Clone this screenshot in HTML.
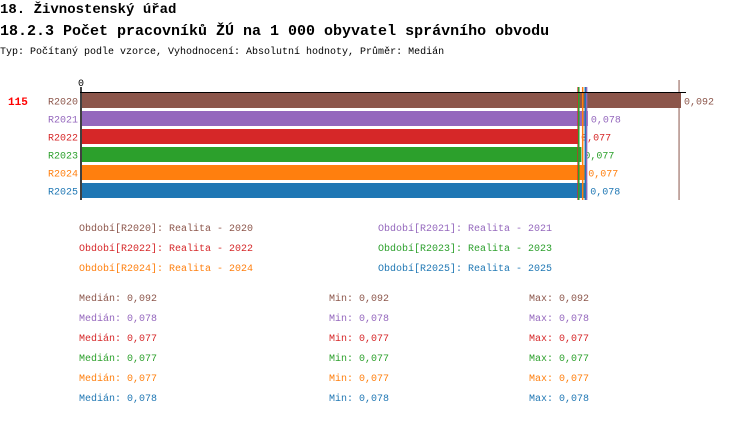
<!DOCTYPE html>
<html><head><meta charset="utf-8"><style>
body{margin:0;background:#fff;width:750px;height:416px;overflow:hidden;font-family:"Liberation Mono",monospace;}
svg text{font-family:"Liberation Mono",monospace;}
</style></head><body>
<svg id="chart" width="750" height="416">
<text x="0" y="13" font-size="14" font-weight="bold" fill="#000">18. Živnostenský úřad</text>
<text x="0" y="35" font-size="15" font-weight="bold" fill="#000">18.2.3 Počet pracovníků ŽÚ na 1 000 obyvatel správního obvodu</text>
<text x="0" y="54" font-size="10" fill="#000">Typ: Počítaný podle vzorce, Vyhodnocení: Absolutní hodnoty, Průměr: Medián</text>
<text x="81" y="86" font-size="10" text-anchor="middle" fill="#000">0</text>
<text x="8" y="105" font-size="11" font-weight="bold" fill="#ff0000">115</text>
<g id="bars"></g>
<g id="legend"></g>
</svg>
<script>
const categories=["R2020","R2021","R2022","R2023","R2024","R2025"];
const values=[0.092,0.0777,0.0762,0.0767,0.0773,0.0776];
const valueLabels=["0,092","0,078","0,077","0,077","0,077","0,078"];
const medians=[0.0917,0.0775,0.0762,0.0763,0.0769,0.0773];
const colors=["#8c564b","#9467bd","#d62728","#2ca02c","#ff7f0e","#1f77b4"];
const legendLabels=["Období[R2020]: Realita - 2020","Období[R2021]: Realita - 2021","Období[R2022]: Realita - 2022","Období[R2023]: Realita - 2023","Období[R2024]: Realita - 2024","Období[R2025]: Realita - 2025"];
const statMedian=["0,092","0,078","0,077","0,077","0,077","0,078"];
const statMin=["0,092","0,078","0,077","0,077","0,077","0,078"];
const statMax=["0,092","0,078","0,077","0,077","0,077","0,078"];
const NS="http://www.w3.org/2000/svg";
const x0=82,scale=599/0.092;
const xs=v=>x0+v*scale;
const ys=i=>93+i*18;
const g=document.getElementById('bars');
function mk(t,a,p){const e=document.createElementNS(NS,t);for(const k in a)e.setAttribute(k,a[k]);(p||g).appendChild(e);return e;}
categories.forEach((c,i)=>{
 const r=mk('rect',{x:x0,y:ys(i),width:xs(values[i])-x0,height:15,fill:colors[i]});
 
 
 const l=mk('text',{x:78,y:ys(i)+11.5,'font-size':10,'text-anchor':'end',fill:colors[i]});l.textContent=c;
 
 
 const v=mk('text',{x:xs(values[i])+3,y:ys(i)+11.5,'font-size':10,fill:colors[i]});v.textContent=valueLabels[i];
 
 
});
categories.forEach((c,i)=>{
 const ln=mk('line',{x1:xs(medians[i]),x2:xs(medians[i]),y1:i==0?80:87,y2:200,stroke:colors[i],'stroke-width':i==0?1:1.5});
 
 
});
const ax=mk('line',{x1:81,x2:81,y1:87,y2:200,stroke:'#000','stroke-width':1.5});


const tx=mk('line',{x1:80,x2:686,y1:92.5,y2:92.5,stroke:'#000','stroke-width':1});


const lg=document.getElementById('legend');
legendLabels.forEach((t,i)=>{
 const e=mk('text',{x:i%2?378:79,y:231+Math.floor(i/2)*20,'font-size':10,fill:colors[i]},lg);e.textContent=t;
 
 
});
categories.forEach((c,i)=>{
 const y=301+i*20;
 const a=mk('text',{x:79,y:y,'font-size':10,fill:colors[i]},lg);a.textContent='Medián: '+statMedian[i];
 
 
 const b=mk('text',{x:329,y:y,'font-size':10,fill:colors[i]},lg);b.textContent='Min: '+statMin[i];
 
 
 const d=mk('text',{x:529,y:y,'font-size':10,fill:colors[i]},lg);d.textContent='Max: '+statMax[i];
 
 
});
</script>
</body></html>
